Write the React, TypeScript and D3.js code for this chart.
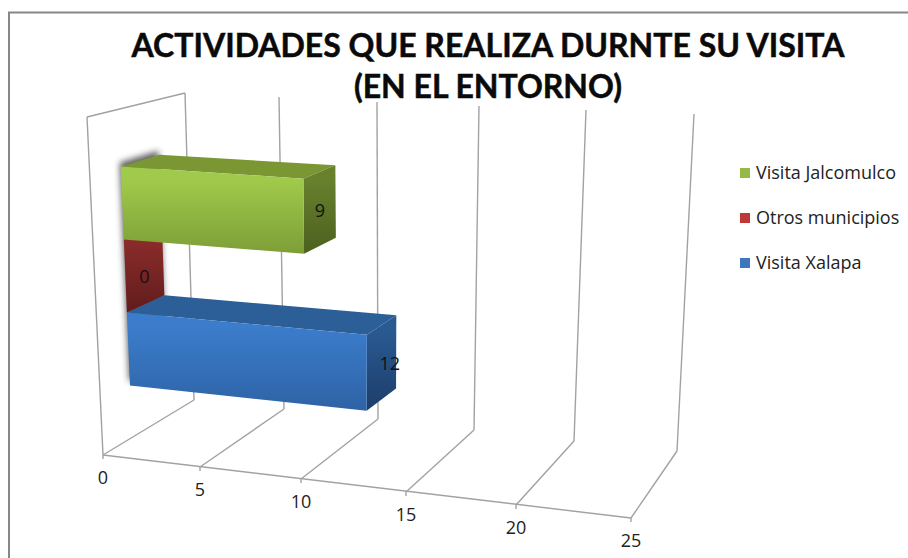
import { useEffect, useRef } from 'react'
import * as d3 from 'd3'

const titleLines = ['ACTIVIDADES QUE REALIZA DURNTE SU VISITA', '(EN EL ENTORNO)']

// bottom to top, as the bars are stacked in the picture
const seriesNames = ['Visita Xalapa', 'Otros municipios', 'Visita Jalcomulco']
const seriesValues = [12, 0, 9]
const legendOrder = ['Visita Jalcomulco', 'Otros municipios', 'Visita Xalapa']
const valueTicks = [0, 5, 10, 15, 20, 25]

// perspective calibration of the box, one entry per tick
const frontFloorX = [103, 200, 301, 406, 516, 631]
const frontFloorY = [455, 467, 479, 492, 505, 518]
const frontTopX = [87, 190, 299, 411, 528, 650]
const frontTopY = [117, 124, 130, 136, 141, 147]
const backFloorX = [194, 284, 378, 474, 574, 677]
const backFloorY = [400, 409, 419, 430, 441, 451]
const backTopX = [185, 279, 377, 479, 586, 694]
const backTopY = [93, 97, 102, 106, 110, 114]

const palette: Record<string, { hi: string; lo: string; top: string; sideHi: string; sideLo: string; key: string }> = {
  'Visita Xalapa': { hi: '#3b7ccb', lo: '#2e63a5', top: '#2c5e97', sideHi: '#2a5a92', sideLo: '#1d3d69', key: '#3d77bd' },
  'Otros municipios': { hi: '#8c2c2b', lo: '#611c1c', top: '#8c2c2b', sideHi: '#8c2c2b', sideLo: '#611c1c', key: '#be3836' },
  'Visita Jalcomulco': { hi: '#a0ca4b', lo: '#7d9e37', top: '#7a9733', sideHi: '#67812d', sideLo: '#4c601f', key: '#95b947' }
}

const FONT = '"Open Sans", Lato, sans-serif'
const TITLE_FONT = 'Lato, "Open Sans", sans-serif'
const GRID = '#a2a2a2'

export default function App() {
  const svgRef = useRef<SVGSVGElement>(null)

  useEffect(() => {
    if (!svgRef.current) return
    const svg = d3.select(svgRef.current)
    svg.selectAll('*').remove()

    const byTick = (range: number[]) => d3.scaleLinear().domain(valueTicks).range(range)
    const fx = byTick(frontFloorX)
    const fy = byTick(frontFloorY)
    const ftx = byTick(frontTopX)
    const fty = byTick(frontTopY)
    const bx = byTick(backFloorX)
    const by = byTick(backFloorY)
    const btx = byTick(backTopX)
    const bty = byTick(backTopY)

    // depth 0 = front of the floor, 1 = back wall; height 0 = floor, 1 = top
    const project = (v: number, depth: number, h: number): [number, number] => {
      const px = d3.interpolateNumber(fx(v), bx(v))(depth)
      const py = d3.interpolateNumber(fy(v), by(v))(depth)
      const qx = d3.interpolateNumber(ftx(v), btx(v))(depth)
      const qy = d3.interpolateNumber(fty(v), bty(v))(depth)
      return [px + (qx - px) * h, py + (qy - py) * h]
    }

    const rowScale = d3.scaleBand().domain(seriesNames).range([0.158, 0.826])
    const d1 = 0.32
    const d2 = 0.72

    const defs = svg.append('defs')
    defs.append('filter').attr('id', 'wall-shadow')
      .attr('x', '-30%').attr('y', '-30%').attr('width', '160%').attr('height', '160%')
      .append('feGaussianBlur').attr('stdDeviation', 3)

    const addGradient = (id: string, hi: string, lo: string) => {
      const g = defs.append('linearGradient').attr('id', id)
        .attr('x1', '0%').attr('y1', '0%').attr('x2', '0%').attr('y2', '100%')
      g.append('stop').attr('offset', '15%').attr('stop-color', hi)
      g.append('stop').attr('offset', '100%').attr('stop-color', lo)
    }
    seriesNames.forEach((name, i) => {
      addGradient(`front-${i}`, palette[name].hi, palette[name].lo)
      addGradient(`side-${i}`, palette[name].sideHi, palette[name].sideLo)
    })

    const poly = d3.line().curve(d3.curveLinearClosed)

    // Outer chart frame, only top and left show in the picture
    svg.append('path').attr('d', 'M9,558V12.5H908').attr('fill', 'none')
      .attr('stroke', '#878787').attr('stroke-width', 2)

    // Walls and floor lines
    const grid = svg.append('g').attr('fill', 'none').attr('stroke', GRID).attr('stroke-width', 1.4)
    const seg = (a: [number, number], b: [number, number]) =>
      grid.append('line').attr('x1', a[0]).attr('y1', a[1]).attr('x2', b[0]).attr('y2', b[1])

    seg(project(0, 0, 0), project(0, 0, 1))
    seg(project(0, 0, 1), project(0, 1, 1))
    valueTicks.forEach(t => {
      seg(project(t, 1, 0), project(t, 1, 1))
      seg(project(t, 0, 0), project(t, 1, 0))
      const foot = project(t, 0, 0)
      seg(foot, [foot[0], foot[1] + 4])
    })
    seg(project(0, 0, 0), project(25, 0, 0))

    // Tick labels
    svg.append('g').selectAll('text').data(valueTicks).enter().append('text')
      .attr('x', d => project(d, 0, 0)[0])
      .attr('y', d => project(d, 0, 0)[1] + 29)
      .attr('text-anchor', 'middle')
      .style('font-family', FONT).style('font-size', '18px').style('fill', '#222')
      .text(d => d)

    // Soft shadow the bars leave on the left wall
    const bottom = rowScale(seriesNames[0]) || 0
    const top = (rowScale(seriesNames[2]) || 0) + rowScale.bandwidth()
    svg.append('path')
      .attr('d', poly([project(0, d1, bottom), project(0, d2, bottom), project(0, d2, top), project(0, d1, top)]))
      .attr('transform', 'translate(-1,-4)')
      .attr('fill', '#444')
      .attr('opacity', 0.85)
      .attr('filter', 'url(#wall-shadow)')

    // Bars, from the lower one up
    const bars = svg.append('g')
    seriesNames.forEach((name, i) => {
      const v = seriesValues[i]
      const h0 = rowScale(name) || 0
      const h1 = h0 + rowScale.bandwidth()
      const g = bars.append('g')

      if (v === 0) {
        // a zero value only shows as a flat slab on the wall
        g.append('path')
          .attr('d', poly([project(0, d1, h0), project(0, d2, h0), project(0, d2, h1), project(0, d1, h1)]))
          .attr('fill', `url(#front-${i})`)
        return
      }
      g.append('path')
        .attr('d', poly([project(0, d1, h1), project(v, d1, h1), project(v, d2, h1), project(0, d2, h1)]))
        .attr('fill', palette[name].top)
      g.append('path')
        .attr('d', poly([project(v, d1, h0), project(v, d2, h0), project(v, d2, h1), project(v, d1, h1)]))
        .attr('fill', `url(#side-${i})`)
      g.append('path')
        .attr('d', poly([project(0, d1, h0), project(v, d1, h0), project(v, d1, h1), project(0, d1, h1)]))
        .attr('fill', `url(#front-${i})`)
    })

    // Value labels, on the end face of each bar
    seriesNames.forEach((name, i) => {
      const v = seriesValues[i]
      const h0 = rowScale(name) || 0
      const [x, y] = project(v, (d1 + d2) / 2, h0 + rowScale.bandwidth() / 2)
      svg.append('text')
        .attr('x', x - (v === 12 ? 2 : 5))
        // the slab for 0 is half hidden by the green bar, so its label sits lower
        .attr('y', y + (v === 0 ? 15 : 8))
        .style('font-family', FONT).style('font-size', '18px').style('fill', '#111')
        .text(v)
    })

    // Title
    svg.append('g').selectAll('text').data(titleLines).enter().append('text')
      .attr('x', 488)
      .attr('y', (_, i) => 57 + i * 41)
      .attr('text-anchor', 'middle')
      .style('font-family', TITLE_FONT).style('font-size', '32px').style('font-weight', 'bold')
      .style('fill', '#0a0a0a').style('stroke', '#0a0a0a').style('stroke-width', 0.5)
      .text(d => d)

    // Legend
    const legendY = d3.scalePoint().domain(legendOrder).range([173, 263])
    const legend = svg.append('g').selectAll('g').data(legendOrder).enter().append('g')
      .attr('transform', d => `translate(740,${legendY(d)})`)
    legend.append('rect')
      .attr('y', -5).attr('width', 10).attr('height', 10)
      .attr('fill', d => palette[d].key)
    legend.append('text')
      .attr('x', 16).attr('y', 6)
      .style('font-family', FONT).style('font-size', '18px').style('fill', '#222')
      .text(d => d)
  }, [])

  return (
    <svg
      ref={svgRef}
      width={908}
      height={558}
      style={{ position: 'absolute', left: 0, top: 0, background: '#fff' }}
    />
  )
}
